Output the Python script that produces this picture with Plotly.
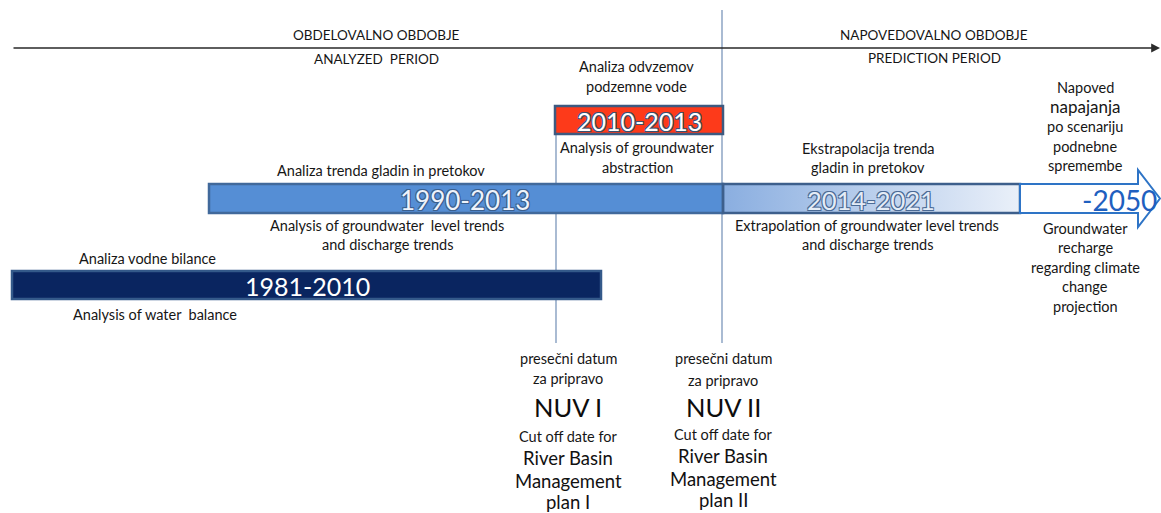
import plotly.graph_objects as go

W, H = 1161, 513
FONT = "Lato"
TXT = "#161616"

# ---------------- data ----------------
# timeline periods (position along the schematic time axis, diagram units)
period_labels = ["1981-2010", "1990-2013", "2010-2013", "2014-2021", "-2050"]
period_start = [12, 209, 555, 723, 1020]
period_end = [601, 723, 723, 1020, 1160]
period_row = [2, 1, 0, 1, 1]          # 0 = top row, 1 = middle row, 2 = bottom row

header_sl = ["OBDELOVALNO OBDOBJE", "NAPOVEDOVALNO OBDOBJE"]
header_en = ["ANALYZED  PERIOD", "PREDICTION PERIOD"]

label_sl = ["Analiza vodne bilance", "Analiza trenda gladin in pretokov",
            "Analiza odvzemov<br>podzemne vode", "Ekstrapolacija trenda<br>gladin in pretokov"]
label_en = ["Analysis of water  balance",
            "Analysis of groundwater  level trends<br>and discharge trends",
            "Analysis of groundwater<br>abstraction",
            "Extrapolation of groundwater level trends<br>and discharge trends"]

scen_sl = ["Napoved", "napajanja", "po scenariju", "podnebne", "spremembe"]
scen_en = ["Groundwater", "recharge", "regarding climate", "change", "projection"]

cutoff_sl = ["presečni datum", "za pripravo"]
cutoff_plan = ["NUV I", "NUV II"]
cutoff_en = ["Cut off date for"]
cutoff_rbmp = [["River Basin", "Management", "plan I"], ["River Basin", "Management", "plan II"]]

# ---------------- layout helpers ----------------
row_y = {0: (106, 134), 1: (184, 213), 2: (271, 299)}
axis_y = 48
cut_x = [556, 722]
line_gap = 19.5
LS = 14.5   # small label size

fig = go.Figure()
shapes = []
ann = []


def txt(t, x, y, size=LS, color=TXT, shadow=None, weight=None):
    f = dict(family=FONT, size=size, color=color)
    if shadow:
        f["shadow"] = shadow
    if weight:
        f["weight"] = weight
    ann.append(dict(text=t, x=x, y=y, xref="x", yref="y", showarrow=False,
                    xanchor="center", yanchor="middle", font=f))


def lines(text_lines, x, y0, size=LS, gap=line_gap, sizes=None):
    for i, t in enumerate(text_lines):
        s = sizes[i] if sizes else size
        txt(t, x, y0 + i * gap, s)


# time axis with arrow
ann.append(dict(x=1160, y=axis_y, ax=12, ay=axis_y, xref="x", yref="y", axref="x", ayref="y",
                text="", showarrow=True, arrowhead=2, arrowsize=1.1, arrowwidth=1.6,
                arrowcolor="#2a2a2a"))

# vertical divider / cut-off lines
shapes.append(dict(type="line", x0=cut_x[1], x1=cut_x[1], y0=10, y1=343, xref="x", yref="y",
                   line=dict(color="#7c97bb", width=1.3), layer="below"))
shapes.append(dict(type="line", x0=cut_x[0], x1=cut_x[0], y0=row_y[0][1], y1=343, xref="x", yref="y",
                   line=dict(color="#7c97bb", width=1.3), layer="below"))

# period bars
fills = ["#0a2560", "#558ed5", "#fd3a1a", None, "white"]
borders = ["#34598a", "#41699b", "#3d5a80", "#3d5f8c", "#2e74c6"]
text_cols = ["#ffffff", "#eef3fb", "#ffffff", "#e4ecf7", "#1f60bf"]
text_shadow = [None,
               "-1px -1px 0 #3a5f8f, 1px -1px 0 #3a5f8f, -1px 1px 0 #3a5f8f, 1px 1px 0 #3a5f8f",
               "-1px -1px 0 #3b4f6e, 1px -1px 0 #3b4f6e, -1px 1px 0 #3b4f6e, 1px 1px 0 #3b4f6e",
               "-1px -1px 0 #4a6a95, 1px -1px 0 #4a6a95, -1px 1px 0 #4a6a95, 1px 1px 0 #4a6a95",
               None]
text_size = [25, 26, 25, 25.5, 28]

for i, lab in enumerate(period_labels):
    x0, x1 = period_start[i], period_end[i]
    y0, y1 = row_y[period_row[i]]
    ym = (y0 + y1) / 2
    if lab == "-2050":
        xh = x1 - 22
        path = (f"M {x0},{y0} L {xh},{y0} L {xh},{y0 - 14} L {x1},{ym} "
                f"L {xh},{y1 + 14} L {xh},{y1} L {x0},{y1} Z")
        shapes.append(dict(type="path", path=path, xref="x", yref="y", fillcolor="white",
                           line=dict(color=borders[i], width=2)))
        tx = x1 - 41
    elif fills[i] is None:
        fig.add_trace(go.Scatter(x=[x0, x1, x1, x0, x0], y=[y0, y0, y1, y1, y0], mode="lines",
                                 fill="toself", line=dict(width=0), hoverinfo="skip", showlegend=False,
                                 fillgradient=dict(type="horizontal",
                                                   colorscale=[[0, "#8aaee0"], [1, "#eaf0f9"]])))
        shapes.append(dict(type="rect", x0=x0, x1=x1, y0=y0, y1=y1, xref="x", yref="y",
                           line=dict(color=borders[i], width=2.5)))
        tx = (x0 + x1) / 2 - 1
    else:
        shapes.append(dict(type="rect", x0=x0, x1=x1, y0=y0, y1=y1, xref="x", yref="y",
                           fillcolor=fills[i], line=dict(color=borders[i], width=2.5)))
        tx = (x0 + x1) / 2
        if i == 1:
            tx = (x0 + x1) / 2 - 1
        if i == 0:
            tx = (x0 + x1) / 2 + 1
    txt(lab, tx, ym + 1, text_size[i], text_cols[i], text_shadow[i])

# headers
txt(header_sl[0], 376, 35, 13.5)
txt(header_en[0], 376, 59, 13.5)
txt(header_sl[1], 934, 35, 13.5)
txt(header_en[1], 934, 58, 13.5)

# period descriptions
lines(["Analiza vodne bilance"], 147, 258)
lines(["Analysis of water  balance"], 155, 314)
lines(["Analiza trenda gladin in pretokov"], 381, 170)
lines(label_en[1].split("<br>"), 387, 225)
lines(label_sl[2].split("<br>"), 636, 66, gap=20)
lines(label_en[2].split("<br>"), 637, 147, gap=20)
lines(label_sl[3].split("<br>"), 868, 148)
lines(label_en[3].split("<br>"), 867, 225)

# scenario column
lines(scen_sl, 1085, 87, gap=19.7, sizes=[14.5, 17, 14.5, 14.5, 14.5])
lines(scen_en, 1085, 228, gap=19.6)

# cut-off columns
col_x = [568, 723]
col_y = [[358, 378, 407, 436, 458, 481, 502], [358, 380, 407, 434, 456, 479, 500]]
for c in range(2):
    ys = col_y[c]
    txt(cutoff_sl[0], col_x[c], ys[0], LS)
    txt(cutoff_sl[1], col_x[c], ys[1], LS)
    txt(cutoff_plan[c], col_x[c], ys[2], 25.5, "#0d0d0d")
    txt(cutoff_en[0], col_x[c], ys[3], LS)
    for k, t in enumerate(cutoff_rbmp[c]):
        txt(t, col_x[c], ys[4 + k], 18.5, "#111111")

fig.update_layout(
    width=W, height=H,
    margin=dict(l=0, r=0, t=0, b=0),
    paper_bgcolor="white", plot_bgcolor="white",
    xaxis=dict(range=[0, W], visible=False, fixedrange=True),
    yaxis=dict(range=[H, 0], visible=False, fixedrange=True),
    shapes=shapes, annotations=ann, showlegend=False,
)

fig.write_html("out.html", config={"displayModeBar": False},
               post_script="document.body.style.margin='0px';document.body.style.overflow='hidden';")
